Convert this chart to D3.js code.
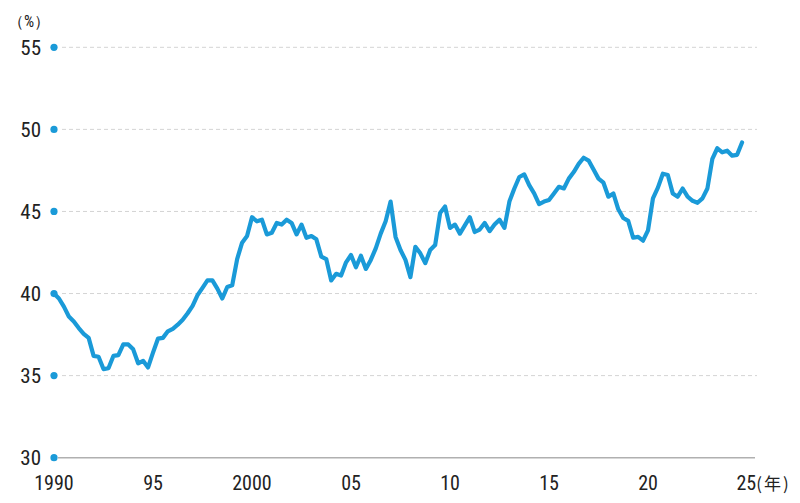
<!DOCTYPE html>
<html><head><meta charset="utf-8">
<script src="https://cdn.jsdelivr.net/npm/d3@7"></script>
<style>
html,body{margin:0;padding:0;background:#fff;}
svg{display:block;}
text{font-family:"Liberation Sans Narrow","Roboto Condensed","Liberation Sans",sans-serif;fill:#222;}
</style></head>
<body>
<svg id="c" width="800" height="503"></svg>
<script>
// Quarterly values, 1990 Q1 .. 2024 Q4 (%)
const startYear = 1990;
const values = [
  40.0, 39.7, 39.2, 38.6,
  38.3, 37.9, 37.55, 37.3,
  36.2, 36.15, 35.4, 35.45,
  36.2, 36.25, 36.9, 36.9,
  36.6, 35.75, 35.9, 35.5,
  36.4, 37.25, 37.3, 37.7,
  37.85, 38.1, 38.4, 38.8,
  39.25, 39.9, 40.35, 40.8,
  40.8, 40.3, 39.7, 40.4,
  40.5, 42.1, 43.1, 43.5,
  44.65, 44.4, 44.5, 43.6,
  43.7, 44.3, 44.2, 44.5,
  44.3, 43.6, 44.2, 43.4,
  43.5, 43.3, 42.25, 42.1,
  40.8, 41.2, 41.1, 41.9,
  42.35, 41.6, 42.3, 41.5,
  42.05, 42.75, 43.65, 44.4,
  45.6, 43.45, 42.65, 42.05,
  41.0, 42.85, 42.45, 41.85,
  42.65, 42.95, 44.9, 45.3,
  44.0, 44.2, 43.65, 44.15,
  44.65, 43.75, 43.9, 44.3,
  43.8, 44.2, 44.5, 44.0,
  45.6, 46.4, 47.1, 47.26,
  46.6, 46.1, 45.45, 45.6,
  45.7, 46.1, 46.5, 46.4,
  47.0, 47.4, 47.9, 48.27,
  48.1, 47.55, 47.0, 46.75,
  45.9, 46.1, 45.13, 44.6,
  44.43, 43.4, 43.45, 43.22,
  43.85, 45.8, 46.45, 47.3,
  47.22, 46.1, 45.9, 46.4,
  45.9, 45.65, 45.53, 45.8,
  46.4, 48.2, 48.85, 48.6,
  48.7, 48.4, 48.45, 49.2
];
const yTicks = [30, 35, 40, 45, 50, 55];
const xTicks = [1990, 1995, 2000, 2005, 2010, 2015, 2020];
const xTickLabels = ["1990", "95", "2000", "05", "10", "15", "20"];
const lastTick = 2025;
const lastTickLabel = "25";
const yUnit = "（%）";
const xUnit = "(年)";

const data = values.map((v, i) => ({t: startYear + i / 4, v}));

const svg = d3.select("#c");
const x = d3.scaleLinear().domain([1990, 2025]).range([54, 747]);
const y = d3.scaleLinear().domain([30, 55]).range([457.7, 47.3]);
const blue = "#1a9ad8";

// gridlines
svg.append("g").selectAll("line").data(yTicks.filter(d => d !== 30)).join("line")
  .attr("x1", 62).attr("x2", 757)
  .attr("y1", d => y(d)).attr("y2", d => y(d))
  .attr("stroke", "#d4d4d4").attr("stroke-width", 1)
  .attr("stroke-dasharray", "4,3");

// baseline
svg.append("line").attr("x1", 58).attr("x2", 755)
  .attr("y1", y(30)).attr("y2", y(30))
  .attr("stroke", "#b0b0b0").attr("stroke-width", 1.5);

// y-axis dots and labels
svg.append("g").selectAll("circle").data(yTicks).join("circle")
  .attr("cx", x(1990)).attr("cy", d => y(d)).attr("r", 3.6).attr("fill", blue);
svg.append("g").selectAll("text").data(yTicks).join("text")
  .attr("x", 41).attr("y", d => y(d)).attr("dy", "0.35em")
  .attr("text-anchor", "end").attr("font-size", 21)
  .text(d => d);

svg.append("text").attr("x", 8).attr("y", 27).attr("font-size", 16)
  .attr("font-family", "'Noto Sans CJK JP',sans-serif").text(yUnit);

// x labels
svg.append("g").selectAll("text").data(xTicks).join("text")
  .attr("x", d => x(d)).attr("y", 490)
  .attr("text-anchor", "middle").attr("font-size", 20)
  .text((d, i) => xTickLabels[i]);
const lt = svg.append("text").attr("x", x(lastTick) - 10.5).attr("y", 490)
  .attr("font-size", 20);
lt.append("tspan").text(lastTickLabel);
lt.append("tspan").attr("font-size", 17).attr("letter-spacing", 2)
  .attr("font-family", "'Noto Sans CJK JP',sans-serif").text(xUnit);

// line
const line = d3.line().x(d => x(d.t)).y(d => y(d.v)).curve(d3.curveLinear);
svg.append("path").datum(data).attr("d", line)
  .attr("fill", "none").attr("stroke", blue).attr("stroke-width", 4.2)
  .attr("stroke-linejoin", "round").attr("stroke-linecap", "round");
</script>
</body></html>
